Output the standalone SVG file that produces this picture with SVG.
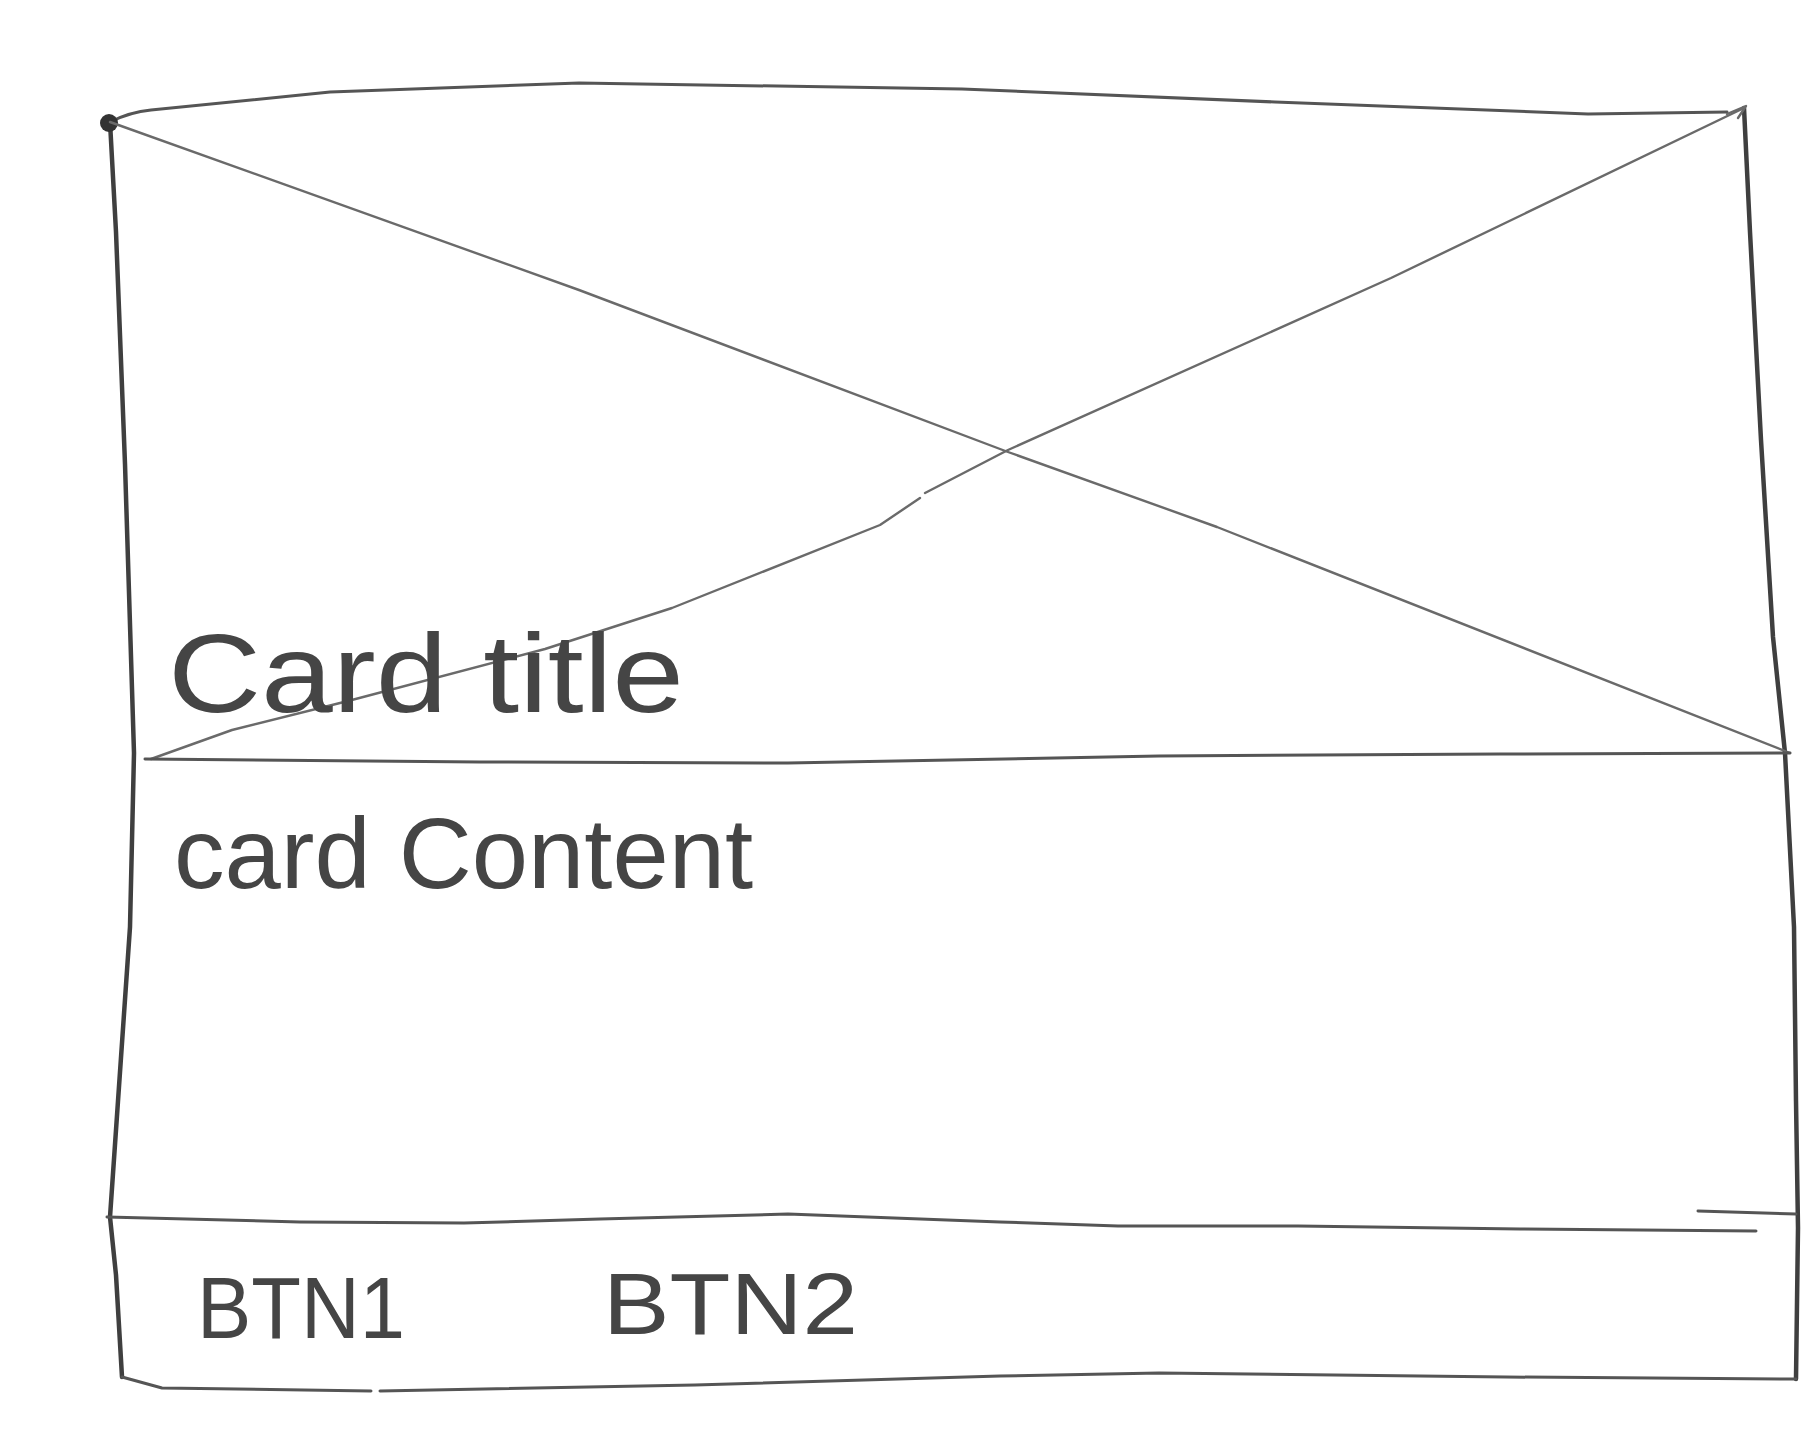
<svg xmlns="http://www.w3.org/2000/svg" width="1817" height="1446" viewBox="0 0 1817 1446">
  <style>
    .frame { fill: none; stroke: #3f3f3f; stroke-width: 4.5; stroke-linecap: round; stroke-linejoin: round; }
    .edge { fill: none; stroke: #555; stroke-width: 3; stroke-linecap: round; stroke-linejoin: round; }
    .thin { fill: none; stroke: #6a6a6a; stroke-width: 2.4; stroke-linecap: round; stroke-linejoin: round; }
    .hand { font-family: "Liberation Sans", "DejaVu Sans", sans-serif; fill: #454545; }
  </style>
  <rect width="1817" height="1446" fill="#ffffff"/>

  <g id="card-frame">
    <path class="edge" d="M110,122 Q130,112 151,110 L330,92 L579,83 L962,89 L1275,102 L1588,114 L1727,112"/>
    <path class="frame" d="M1744,108 L1750,232 L1761,440 L1773,637 L1785,753 L1794,927 L1796,1101 L1798,1228 L1796,1379"/>
    <path class="frame" d="M110,122 L116,232 L125,464 L134,753 L130,927 L118,1101 L110,1217 L116,1275 L122,1377"/>
    <path class="edge" d="M122,1377 L162,1388 L371,1391 M380,1391 L695,1385 L1000,1376 L1159,1373 L1506,1377 L1796,1379"/>
    <circle cx="109" cy="123" r="9" fill="#333"/>
    <path class="thin" d="M1727,114 L1746,106 L1738,118"/>
  </g>

  <g id="image-placeholder">
    <path class="thin" d="M110,122 L579,290 L1008,452 L1217,527 L1790,753"/>
    <path class="thin" d="M1744,108 L1391,278 L1008,450 L925,493 M920,498 L880,525 L672,608 L545,649 L348,701 L232,730 L151,759"/>
    <path class="edge" d="M145,759 L480,762 L788,763 L1159,756 L1500,754 L1790,753"/>
  </g>

  <g id="card-title">
    <text class="hand" x="168" y="712" font-size="112" textLength="516" lengthAdjust="spacingAndGlyphs">Card title</text>
  </g>

  <g id="card-content">
    <text class="hand" x="174" y="888" font-size="100" textLength="579" lengthAdjust="spacingAndGlyphs">card Content</text>
  </g>

  <g id="card-actions">
    <path class="edge" d="M107,1217 L300,1222 L464,1223 L600,1219 L788,1214 L1000,1222 L1118,1226 L1298,1226 L1520,1229 L1756,1231"/>
    <path class="edge" d="M1698,1211 L1796,1214"/>
    <text class="hand" x="197" y="1338" font-size="88" textLength="208" lengthAdjust="spacingAndGlyphs">BTN1</text>
    <text class="hand" x="603" y="1334" font-size="88" textLength="255" lengthAdjust="spacingAndGlyphs">BTN2</text>
  </g>
</svg>
